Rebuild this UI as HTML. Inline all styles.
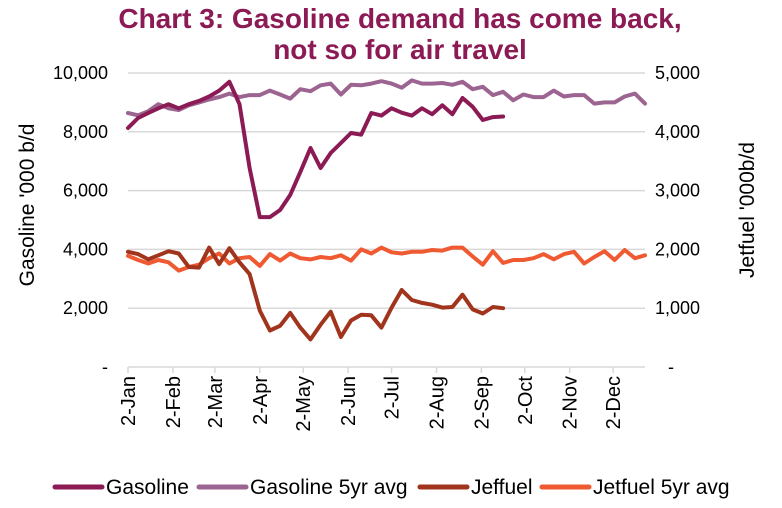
<!DOCTYPE html>
<html><head><meta charset="utf-8"><style>
body{margin:0;background:#fff;}
svg{display:block;font-family:"Liberation Sans",Arial,sans-serif;}
</style></head><body>
<svg id="chart" width="782" height="508">
<text x="400" y="28" text-anchor="middle" font-size="28" font-weight="bold" fill="#8B1A55">Chart 3: Gasoline demand has come back,</text>
<text x="400" y="59" text-anchor="middle" font-size="28" font-weight="bold" fill="#8B1A55">not so for air travel</text>
<g id="grid"></g><g id="axes"></g><g id="lines"></g>
<text transform="translate(34,205) rotate(-90)" text-anchor="middle" font-size="21" fill="#000">Gasoline '000 b/d</text>
<text transform="translate(754,210) rotate(-90)" text-anchor="middle" font-size="21" fill="#000">Jetfuel '000b/d</text>
<g id="legend"></g>
</svg>
<script>
const leftTicks=[0,2000,4000,6000,8000,10000];
const leftTickLabels=["-","2,000","4,000","6,000","8,000","10,000"];
const rightTicks=[0,1000,2000,3000,4000,5000];
const rightTickLabels=["-","1,000","2,000","3,000","4,000","5,000"];
const monthLabels=["2-Jan","2-Feb","2-Mar","2-Apr","2-May","2-Jun","2-Jul","2-Aug","2-Sep","2-Oct","2-Nov","2-Dec"];
const monthDays=[0,31,60,91,121,152,182,213,244,274,305,335];
const gasoline=[8130,8470,8640,8800,8940,8800,8940,9050,9200,9400,9700,8940,6770,5100,5100,5340,5850,6630,7450,6770,7280,7620,7960,7900,8640,8550,8800,8650,8550,8800,8600,8900,8600,9150,8850,8400,8500,8520];
const gasoline5yr=[8640,8560,8700,8940,8800,8740,8900,9000,9100,9180,9300,9180,9250,9250,9400,9270,9130,9450,9380,9580,9640,9270,9600,9580,9640,9720,9640,9500,9750,9640,9640,9660,9600,9700,9450,9530,9250,9360,9070,9270,9180,9180,9400,9200,9250,9250,8960,9000,9000,9200,9300,8960];
const jetfuel=[1960,1920,1830,1900,1970,1930,1700,1690,2030,1750,2020,1780,1580,960,620,700,920,670,470,720,940,510,790,890,880,670,1010,1310,1140,1090,1060,1010,1020,1230,980,910,1020,1000];
const jetfuel5yr=[1890,1820,1760,1820,1780,1640,1700,1740,1850,1930,1760,1850,1870,1720,1920,1810,1930,1850,1830,1870,1850,1900,1810,2000,1930,2030,1950,1930,1960,1960,1990,1980,2030,2030,1880,1740,1970,1770,1820,1820,1850,1920,1830,1920,1960,1760,1870,1970,1820,1990,1850,1900];
const X0=128,X1=645,Y0=367,YT=73;
const yL=v=>Y0-(v/10000)*(Y0-YT);
const yR=v=>Y0-(v/5000)*(Y0-YT);
const xW=i=>X0+i*(X1-X0)/51;
const xD=d=>X0+d*(X1-X0)/357;
const NS="http://www.w3.org/2000/svg";
function mk(tag,attrs,parent,text){const e=document.createElementNS(NS,tag);for(const k in attrs)e.setAttribute(k,attrs[k]);if(text!==undefined)e.textContent=text;parent.appendChild(e);return e;}
const grid=document.getElementById('grid'),axes=document.getElementById('axes'),lines=document.getElementById('lines'),legend=document.getElementById('legend');
leftTicks.forEach((t,i)=>{
  if(t>0){const g=mk('line',{x1:X0,x2:X1,y1:yL(t),y2:yL(t),stroke:'#d9d9d9','stroke-width':1.5},grid);
  
  }
  const l=mk('text',{x:108,y:yL(t)+6,'text-anchor':'end','font-size':18},axes,leftTickLabels[i]);
  
  
});
rightTicks.forEach((t,i)=>{
  const l=mk('text',{x:i==0?668:655,y:yR(t)+6,'text-anchor':'start','font-size':18},axes,rightTickLabels[i]);
  
  
});
const ax=mk('line',{x1:X0,x2:X1,y1:Y0,y2:Y0,stroke:'#d9d9d9','stroke-width':1.5},axes);


monthLabels.forEach((m,i)=>{
  const x=xD(monthDays[i]);
  const tk=mk('line',{x1:x,x2:x,y1:Y0,y2:Y0+6,stroke:'#d9d9d9','stroke-width':1.5},axes);
  
  
  const l=mk('text',{transform:`translate(${x+7},376) rotate(-90)`,'text-anchor':'end','font-size':20},axes,m);
  
  
});
function series(arr,yf,color,name){
  const d=arr.map((v,i)=>(i?'L':'M')+xW(i).toFixed(1)+','+yf(v).toFixed(1)).join('');
  const p=mk('path',{d:d,fill:'none',stroke:color,'stroke-width':4,'stroke-linejoin':'round','stroke-linecap':'round'},lines);
  
  
}
series(jetfuel5yr,yR,'#F05A32','jetfuel-5yr-avg-line');
series(jetfuel,yR,'#A0341C','jetfuel-line');
series(gasoline5yr,yL,'#9C6490','gasoline-5yr-avg-line');
series(gasoline,yL,'#8B1A55','gasoline-line');
const leg=[["Gasoline","#8B1A55",55],["Gasoline 5yr avg","#9C6490",199],["Jeffuel","#A0341C",420],["Jetfuel 5yr avg","#F05A32",542]];
leg.forEach(([t,c,x])=>{
  const g=mk('g',{},legend);
  
  
  mk('line',{x1:x,x2:x+47,y1:487,y2:487,stroke:c,'stroke-width':5,'stroke-linecap':'round'},g);
  mk('text',{x:x+51,y:494,'font-size':21},g,t);
});
</script>
</body></html>
